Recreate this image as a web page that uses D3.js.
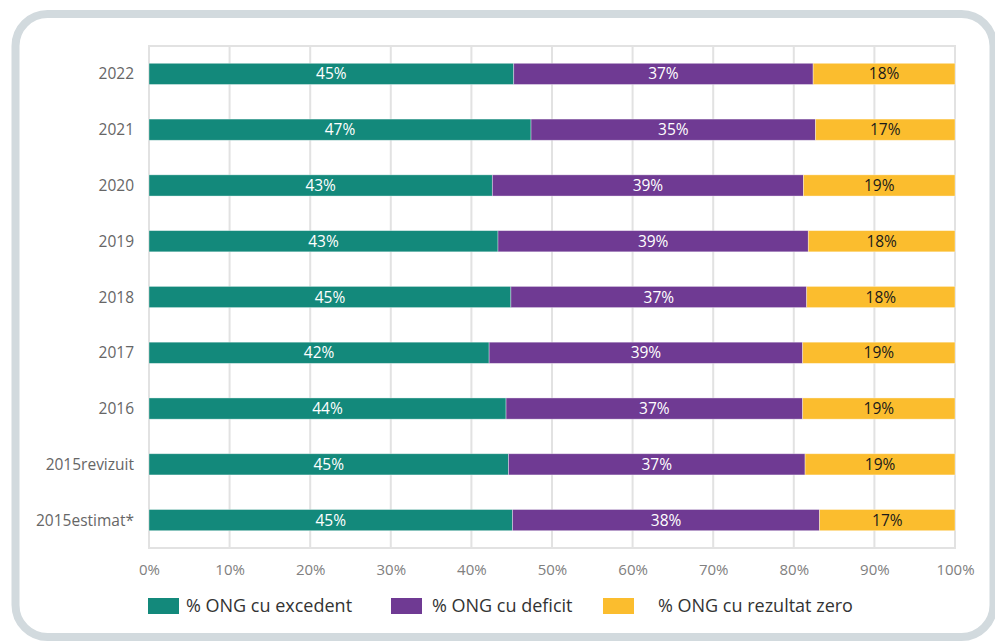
<!DOCTYPE html>
<html>
<head>
<meta charset="UTF-8">
<style>
  body { margin: 0; background: #fff; }
  svg { display: block; font-family: "Open Sans", "Noto Sans", sans-serif; }
</style>
</head>
<body>
<svg></svg>
<script src="https://d3js.org/d3.v7.min.js"></script>
<script>
  const width = 995, height = 643;
  const margin = { top: 46, right: 40, bottom: 95, left: 149 };

  // data (percent of NGOs)
  const years = ["2022", "2021", "2020", "2019", "2018", "2017", "2016", "2015revizuit", "2015estimat*"];
  const excedent = [45.25, 47.4, 42.6, 43.3, 44.9, 42.2, 44.3, 44.6, 45.1];
  const deficit = [37.15, 35.3, 38.6, 38.5, 36.7, 38.9, 36.8, 36.8, 38.1];
  const zero = [17.6, 17.3, 18.8, 18.2, 18.4, 18.9, 18.9, 18.6, 16.8];
  const seriesNames = ["% ONG cu excedent", "% ONG cu deficit", "% ONG cu rezultat zero"];
  const colors = ["#13897b", "#6f3a93", "#fbbd2e"];
  const labelColors = ["#fff", "#fff", "#1a1a1a"];
  const xTicks = [0, 10, 20, 30, 40, 50, 60, 70, 80, 90, 100];

  const svg = d3.select("svg").attr("width", width).attr("height", height);

  // rounded panel behind the chart
  svg.append("rect")
    .attr("x", 15.5).attr("y", 14)
    .attr("width", 978).attr("height", 623)
    .attr("rx", 32)
    .attr("fill", "#fff")
    .attr("stroke", "#d2dade")
    .attr("stroke-width", 8);

  const rows = years.map((y, i) => ({ year: y, ex: excedent[i], de: deficit[i], ze: zero[i] }));
  const stack = d3.stack().keys(["ex", "de", "ze"])(rows);

  const x = d3.scaleLinear().domain([0, 100]).range([margin.left, width - margin.right]);
  const y = d3.scaleBand().domain(years)
    .range([margin.top, height - margin.bottom])
    .paddingInner(0.62).paddingOuter(0.31);

  // grid + frame
  svg.append("g").selectAll("line")
    .data(xTicks)
    .join("line")
    .attr("x1", d => x(d)).attr("x2", d => x(d))
    .attr("y1", margin.top).attr("y2", height - margin.bottom)
    .attr("stroke", "#e2e2e2").attr("stroke-width", 2);
  svg.append("rect")
    .attr("x", x(0)).attr("y", margin.top)
    .attr("width", x(100) - x(0)).attr("height", height - margin.bottom - margin.top)
    .attr("fill", "none").attr("stroke", "#e2e2e2").attr("stroke-width", 2);

  // bars
  const groups = svg.append("g").selectAll("g")
    .data(stack)
    .join("g")
    .attr("fill", (d, i) => colors[i]);

  groups.selectAll("rect")
    .data(d => d)
    .join("rect")
    .attr("x", d => x(d[0]))
    .attr("y", d => y(d.data.year))
    .attr("width", d => x(d[1]) - x(d[0]))
    .attr("height", y.bandwidth())
    .attr("stroke", "#fff").attr("stroke-opacity", 0.45).attr("stroke-width", 0.8);

  groups.selectAll("text")
    .data((d, i) => d.map(v => ({ v, i })))
    .join("text")
    .attr("x", d => (x(d.v[0]) + x(d.v[1])) / 2)
    .attr("y", d => y(d.v.data.year) + y.bandwidth() / 2)
    .attr("dy", "0.36em")
    .attr("text-anchor", "middle")
    .attr("font-size", 15.5)
    .attr("fill", d => labelColors[d.i])
    .text(d => Math.round(d.v[1] - d.v[0]) + "%");

  // y labels
  svg.append("g").selectAll("text")
    .data(years)
    .join("text")
    .attr("x", 134)
    .attr("y", d => y(d) + y.bandwidth() / 2)
    .attr("dy", "0.36em")
    .attr("text-anchor", "end")
    .attr("font-size", 15.5)
    .attr("fill", "#666")
    .text(d => d);

  // x axis labels
  const xAxis = d3.axisBottom(x).tickValues(xTicks).tickFormat(d => d + "%").tickSize(0).tickPadding(0);
  const gx = svg.append("g")
    .attr("transform", "translate(0," + 564 + ")")
    .call(xAxis);
  gx.select(".domain").remove();
  gx.selectAll("text")
    .attr("font-family", "\"Open Sans\", sans-serif")
    .attr("font-size", 15)
    .attr("fill", "#808080");

  // legend
  const legendX = [148, 391, 603];
  const legendTextX = [186, 432, 658];
  const legend = svg.append("g").selectAll("g")
    .data(seriesNames)
    .join("g");
  legend.append("rect")
    .attr("x", (d, i) => legendX[i]).attr("y", 598)
    .attr("width", 31).attr("height", 16)
    .attr("fill", (d, i) => colors[i]);
  legend.append("text")
    .attr("x", (d, i) => legendTextX[i]).attr("y", 606)
    .attr("dy", "0.36em")
    .attr("font-size", 18)
    .attr("fill", "#333")
    .text(d => d);
</script>
</body>
</html>
